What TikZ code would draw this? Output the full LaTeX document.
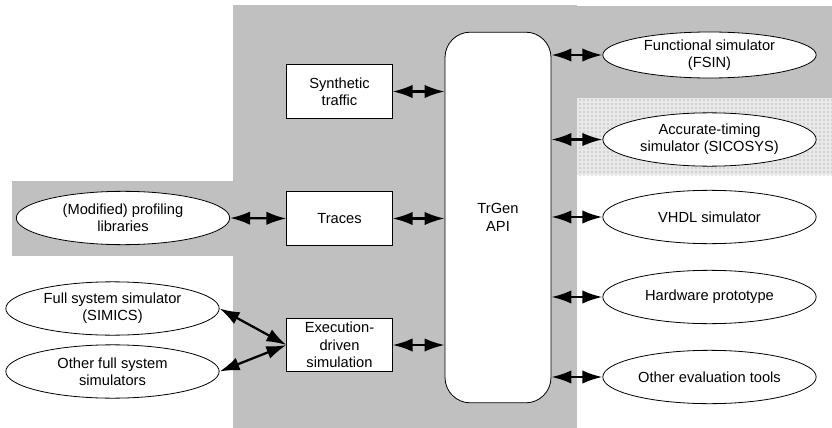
\documentclass[tikz,border=0pt]{standalone}
\usepackage{fontspec}
\setmainfont{Liberation Sans}
\usetikzlibrary{shapes.geometric,arrows.meta,patterns}
\definecolor{panelgray}{RGB}{192,192,192}
\definecolor{dotgray}{RGB}{140,140,140}
\definecolor{dotback}{RGB}{232,232,232}

\begin{document}
\begin{tikzpicture}[x=0.75pt,y=-0.75pt,
    tool/.style={draw, ellipse, line width=0.6pt, fill=white, minimum width=160pt,
        minimum height=40pt, inner sep=0pt, align=center, font=\fontsize{11}{13}\selectfont},
    block/.style={draw, rectangle, line width=0.6pt, fill=white, minimum width=79pt,
        minimum height=40pt, inner sep=0pt, align=center, font=\fontsize{11}{13}\selectfont},
    link/.style={{Latex[length=15pt,width=10pt]}-{Latex[length=15pt,width=10pt]}, line width=1.7pt}]
    \useasboundingbox (0,0) rectangle (832,428);

    % Background panels
    \fill[panelgray] (233,5) rectangle (577,428);
    \fill[panelgray] (577,6) rectangle (832,98);
    \fill[panelgray] (12,181) rectangle (233,256);
    \fill[dotback] (577,98) rectangle (832,175);
    \fill[pattern=dots, pattern color=dotgray] (577,98) rectangle (832,175);

    % Central API
    \node[draw, line width=0.6pt, fill=white, rounded corners=19pt, minimum width=79.5pt,
        minimum height=278pt, align=center, font=\fontsize{11}{13}\selectfont]
        (api) at (498,217.5) {TrGen\\API};

    % Trace sources
    \node[block] (syn) at (339.5,91.5) {Synthetic\\traffic};
    \node[block] (trc) at (339.5,218.5) {Traces};
    \node[block] (exe) at (339.5,345) {Execution-\\driven\\simulation};

    % Tools on the left
    \node[tool] (prof) at (123,218) {(Modified) profiling\\libraries};
    \node[tool] (simics) at (112.5,308.5) {Full system simulator\\(SIMICS)};
    \node[tool] (fullsim) at (112.5,371.5) {Other full system\\simulators};

    % Tools on the right
    \node[tool, minimum height=34.5pt] (fsin) at (709.5,55) {Functional simulator\\(FSIN)};
    \node[tool] (sicosys) at (709.5,139.5) {Accurate-timing\\simulator (SICOSYS)};
    \node[tool] (vhdl) at (709.5,217) {VHDL simulator};
    \node[tool] (hw) at (709.5,297) {Hardware prototype};
    \node[tool] (other) at (709.5,377) {Other evaluation tools};

    % Connections
    \draw[link] (syn.east) -- (syn.east -| api.west);
    \draw[link] (trc.east) -- (trc.east -| api.west);
    \draw[link] (exe.east) -- (exe.east -| api.west);
    \draw[link] (prof.east) -- (trc.west);
    \draw[link] (simics.east) -- (exe.west);
    \draw[link] (fullsim.east) -- (exe.west);
    \foreach \t in {fsin,sicosys,vhdl,hw,other}
        \draw[link] (api.east |- \t.west) -- (\t.west);
\end{tikzpicture}
\end{document}
